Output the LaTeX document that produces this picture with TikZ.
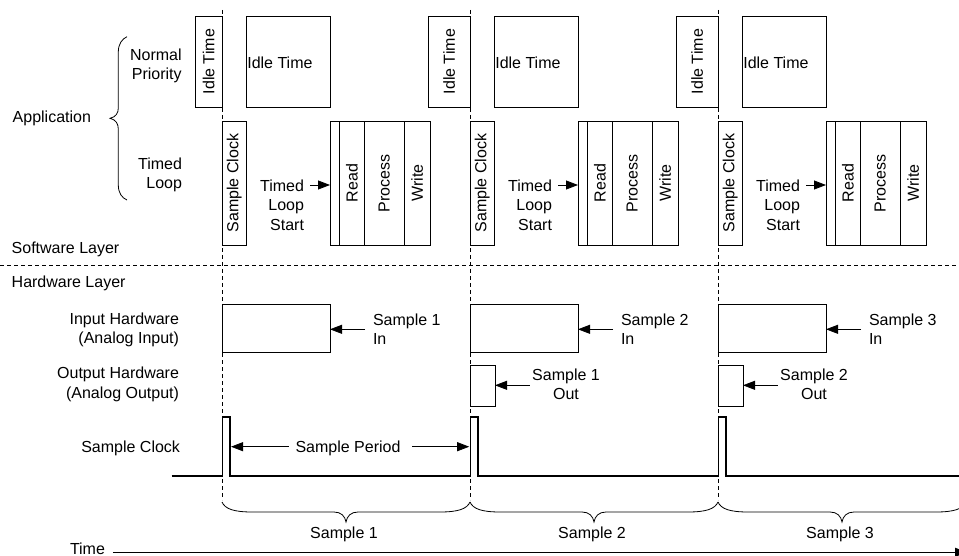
\documentclass[tikz,border=0pt]{standalone}
\usepackage{fontspec}
\setmainfont{Liberation Sans}
\usetikzlibrary{arrows.meta}
\begin{document}
\begin{tikzpicture}[x=1pt,y=-1pt,
  font=\fontsize{16pt}{19.5pt}\selectfont,
  box/.style={draw, line width=0.8pt, inner sep=0pt, outer sep=0pt, anchor=north west},
  lbl/.style={inner sep=0pt, outer sep=0pt},
  arr/.style={line width=0.8pt, -{Triangle[length=12pt,width=9pt]}},
  gridline/.style={line width=0.8pt, dash pattern=on 4pt off 3pt},
  clk/.style={line width=1.6pt},
  bracepath/.style={line width=0.8pt},
]
\useasboundingbox (0,0) rectangle (959,556);

% layer separator
\draw[gridline] (0,265.7) -- (959,265.7);

% left labels
\node[lbl, anchor=base west] (app) at (12.7,122.4) {Application};
\node[lbl, align=right, anchor=north east] (np) at (181.7,48.9) {Normal\\Priority};
\node[lbl, align=right, anchor=north east] (tl) at (182,157.9) {Timed\\Loop};
\draw[bracepath] (127,36.7) .. controls (122,39) and (118.3,44) .. (118.3,52) -- (118.3,108)
  .. controls (118.3,113) and (116,117) .. (110,118.3)
  .. controls (116,119.6) and (118.3,124) .. (118.3,129) -- (118.3,185)
  .. controls (118.3,193) and (122,198) .. (127,200);
\node[lbl, anchor=base west] (sw) at (11.7,254) {Software Layer};
\node[lbl, anchor=base west] (hw) at (11.7,287.4) {Hardware Layer};
\node[lbl, align=right, anchor=north east] (inL) at (179,312.9) {Input Hardware\\(Analog Input)};
\node[lbl, align=right, anchor=north east] (outL) at (179,367.2) {Output Hardware\\(Analog Output)};
\node[lbl, anchor=base east] (scL) at (180,452.4) {Sample Clock};

% per-sample columns
\foreach \k/\x/\w in {1/222/26.5,2/470/41.5,3/718/41.5}{
  \draw[gridline] (\x,10) -- (\x,500);
  \node[box, anchor=north east, minimum width=\w pt, minimum height=91.3pt] (idleS\k) at (\x,16) {\rotatebox{90}{Idle Time}};
  \node[box, minimum width=84pt, minimum height=91.3pt] (idleB\k) at (\x+24,16) {};
  \node[lbl, anchor=base west] (idleT\k) at (\x+25.3,68.4) {Idle Time};
  \node[box, minimum width=24.5pt, minimum height=123.7pt] (sc\k) at (\x,121.3) {\rotatebox{90}{Sample Clock}};
  \node[box, minimum width=9.3pt, minimum height=123.7pt] (rs\k) at (\x+108,121.3) {};
  \node[box, minimum width=25pt, minimum height=123.7pt] (rd\k) at (rs\k.north east) {\rotatebox{90}{Read}};
  \node[box, minimum width=40pt, minimum height=123.7pt] (pr\k) at (rd\k.north east) {\rotatebox{90}{Process}};
  \node[box, minimum width=25.7pt, minimum height=123.7pt] (wr\k) at (pr\k.north east) {\rotatebox{90}{Write}};
  \node[lbl, align=right, anchor=north east] (tls\k) at (\x+82,179.5) {Timed\\Loop\\Start};
  \coordinate (tlsA\k) at ([yshift=-5.5pt]tls\k.north east);
  \draw[arr, shorten <=6pt] (tlsA\k) -- (rs\k.west |- tlsA\k);
  \node[box, minimum width=108pt, minimum height=48pt] (in\k) at (\x,304.3) {};
  \node[lbl, align=left, anchor=north west] (inT\k) at (\x+151,313.9) {Sample \k\\In};
  \coordinate (inA\k) at ([yshift=-15.4pt]inT\k.north west);
  \draw[arr, shorten <=8pt] (inA\k) -- (in\k.east |- inA\k);
  \draw[bracepath] (\x,502) .. controls (\x+3,509) and (\x+12,512) .. (\x+30,512) -- (\x+112,512)
    .. controls (\x+119,512) and (\x+123,516) .. (\x+124,522)
    .. controls (\x+125,516) and (\x+129,512) .. (\x+136,512) -- (\x+218,512)
    .. controls (\x+236,512) and (\x+245,509) .. (\x+248,502);
  \node[lbl, anchor=base] (smp\k) at (\x+122,538.4) {Sample \k};
}

% output hardware boxes
\foreach \k/\x/\j in {2/470/1,3/718/2}{
  \node[box, minimum width=25pt, minimum height=40.7pt] (out\k) at (\x,365.3) {};
  \node[lbl, align=center, anchor=north] (outT\k) at (\x+96,368.9) {Sample \j\\Out};
  \coordinate (outA\k) at ([yshift=-16.4pt]outT\k.north west);
  \draw[arr, shorten <=2.5pt] (outA\k) -- (out\k.east |- outA\k);
}

% sample clock waveform
\draw[clk] (171.7,475.7) -- (222.3,475.7) -- (222.3,416.7) -- (230,416.7) -- (230,475.7)
  -- (470.3,475.7) -- (470.3,416.7) -- (478,416.7) -- (478,475.7)
  -- (718.3,475.7) -- (718.3,416.7) -- (726,416.7) -- (726,475.7) -- (959,475.7);
\coordinate (pulse1) at (231,446.7);
\coordinate (pulse2) at (469.2,446.7);
\node[lbl, anchor=base] (sp) at (348,452.4) {Sample Period};
\draw[arr, shorten <=7pt] (sp.west |- pulse1) -- (pulse1);
\draw[arr, shorten <=12pt] (sp.east |- pulse2) -- (pulse2);

% time axis
\node[lbl, anchor=base west] (time) at (70,554) {Time};
\coordinate (tEnd) at (967,552.3);
\draw[arr, shorten <=8pt] (time.east |- tEnd) -- (tEnd);
\end{tikzpicture}
\end{document}
